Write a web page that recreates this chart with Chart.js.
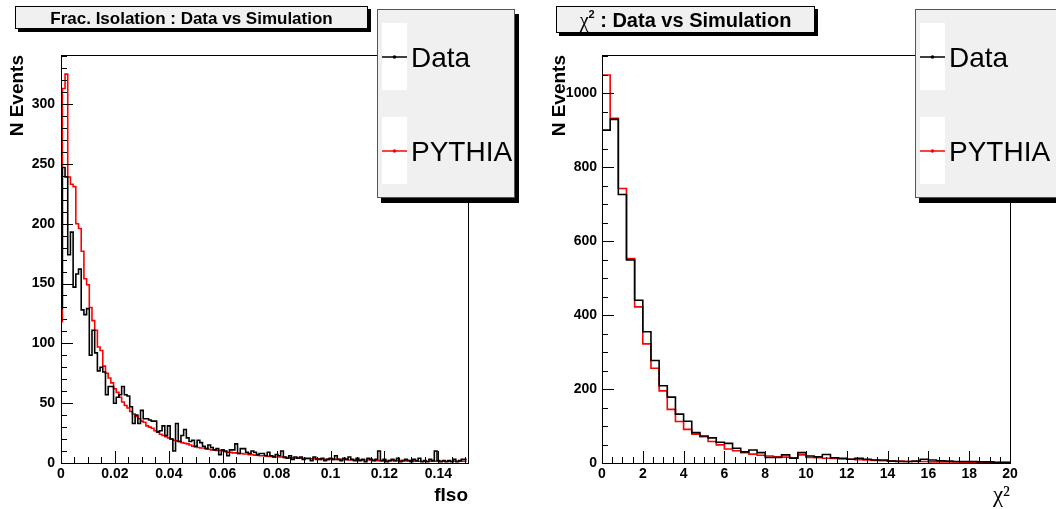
<!DOCTYPE html>
<html>
<head>
<meta charset="utf-8">
<script src="https://cdn.jsdelivr.net/npm/chart.js@4.4.0/dist/chart.umd.min.js"></script>
<style>
  html, body { margin: 0; padding: 0; background: #fff; }
  #wrap { position: relative; width: 1056px; height: 509px; overflow: hidden; }
  .pad { position: absolute; top: 0; width: 528px; height: 509px; }
  .pad canvas { position: absolute; left: 0; top: 0; }
  .overlay { pointer-events: none; }
</style>
</head>
<body>
<div id="wrap">
  <div class="pad" style="left:0">
    <canvas id="fisoChart" width="528" height="509"></canvas>
    <canvas id="fisoTicks" class="overlay" width="528" height="509"></canvas>
  </div>
  <div class="pad" style="left:528px">
    <canvas id="chi2Chart" width="528" height="509"></canvas>
    <canvas id="chi2Ticks" class="overlay" width="528" height="509"></canvas>
  </div>
</div>
<script>
// Frac. isolation histogram, bins of 0.001 centred on 0, 0.001, 0.002 ...
const fisoBinWidth = 0.001;
const fisoFirstEdge = -0.0005;
const fisoData = [
  94, 129, 247, 239, 174, 193, 147, 158, 162, 128,
  124, 129, 90, 111, 92, 77, 80, 76, 57, 64,
  64, 50, 55, 57, 64, 57, 56, 47, 33, 40,
  33, 44, 37, 37, 36, 35, 35, 26, 27, 31,
  23, 31, 20, 10, 33, 18, 23, 28, 21, 18,
  19, 14, 19, 17, 14, 12, 15, 13, 11, 12,
  7, 11, 10, 6, 11, 11, 16, 8, 12, 12,
  9, 8, 10, 9, 7, 8, 8, 6, 9, 6,
  5, 7, 6, 10, 5, 4, 6, 3, 5, 4,
  5, 3, 4, 4, 2, 5, 3, 3, 4, 2,
  3, 4, 3, 6, 3, 2, 4, 3, 5, 3,
  2, 4, 2, 3, 1, 4, 3, 2, 3, 10,
  2, 3, 1, 2, 3, 2, 4, 1, 2, 3,
  2, 1, 3, 2, 4, 1, 2, 1, 3, 2,
  10, 2, 1, 2, 1, 2, 1, 3, 1, 2,
  3
];
const fisoPythia = [
  80, 118, 313, 325, 239, 233, 231, 200, 196, 177,
  154, 149, 130, 119, 111, 97, 94, 81, 75, 71,
  67, 62, 59, 55, 51, 48, 46, 43, 41, 39,
  37, 35, 34, 31, 30, 29, 27, 26, 24, 23,
  22, 21, 20, 19, 18.5, 18, 17, 16.5, 16, 15,
  14, 13.5, 13, 12.5, 12.5, 12, 11.5, 11, 11, 10.5,
  10.5, 10, 9.5, 9, 9, 8.5, 8.5, 8, 8, 7.5,
  7.5, 7, 7, 6.5, 6.5, 6, 6, 6, 5.5, 5.5,
  5.5, 5, 5, 5, 4.5, 4.5, 4.5, 4.5, 4, 4,
  4, 4, 3.5, 3.5, 3.5, 3.5, 3.5, 3.5, 3, 3,
  3, 3, 3, 3, 3, 3, 3, 3, 2.5, 2.5,
  2.5, 2.5, 2.5, 2.5, 2.5, 2.5, 2.5, 2.5, 2, 2,
  2, 2, 2, 2, 2, 2, 2, 2, 2, 2,
  2, 2, 1.5, 1.5, 1.5, 1.5, 1.5, 1.5, 1.5, 1.5,
  1.5, 1.5, 1.5, 1.5, 1.5, 1.5, 1.5, 1.5, 1.5, 1.5,
  1.5
];

// chi2 histogram, bins of 0.4 from 0 to 20
const chi2BinWidth = 0.4;
const chi2FirstEdge = 0;
const chi2Data = [
  400, 900, 929, 726, 549, 440, 355, 277, 209, 178,
  132, 113, 82, 73, 68, 56, 53, 40, 30, 35,
  28, 15, 15, 22, 13, 28, 19, 17, 23, 14,
  13, 10, 13, 10, 8, 8, 5, 4, 4, 5,
  10, 8, 6, 5, 4, 4, 4, 3, 3, 2
];
const chi2Pythia = [
  538, 1049, 932, 742, 553, 422, 322, 256, 195, 145,
  112, 91, 78, 71, 58, 49, 38, 33, 28, 24,
  21, 19, 17, 16, 14, 22, 15, 14, 13, 12,
  11, 10, 9, 8, 7, 6, 5, 5, 4, 4,
  4, 3, 3, 3, 3, 2, 2, 2, 2, 1
];

const legendLabels = ['Data', 'PYTHIA'];
const seriesColors = ['#000000', '#ff0000'];

const FONT = "'Liberation Sans', Arial, Helvetica, sans-serif";
const SERIF = "'Liberation Serif', 'Times New Roman', serif";

function histPoints(values, firstEdge, width) {
  const pts = values.map((v, i) => ({ x: firstEdge + i * width, y: v }));
  pts.push({ x: firstEdge + values.length * width, y: values[values.length - 1] });
  return pts;
}

// inner ticks (minor every xMinor / yMinor, long one every xEvery / yEvery) and frame,
// drawn on a transparent canvas laid over the chart, positioned with the chart's scales
function drawFrame(chart, overlayId, axes) {
  const ctx = document.getElementById(overlayId).getContext('2d');
  const a = chart.chartArea;
  const xs = chart.scales.x;
  const ys = chart.scales.y;
  const left = Math.round(a.left);
  const bottom = Math.round(a.bottom);
  ctx.fillStyle = '#000000';
  const nx = Math.round(axes.xMax / axes.xMinor);
  for (let i = 0; i <= nx; i++) {
    const px = Math.round(xs.getPixelForValue(i * axes.xMinor));
    if (px > a.right + 0.5) break;
    const len = i % axes.xEvery === 0 ? 12 : 6;
    ctx.fillRect(px, bottom - len, 1, len);
  }
  const ny = Math.round(axes.yMax / axes.yMinor);
  for (let i = 0; i <= ny; i++) {
    const py = Math.round(ys.getPixelForValue(i * axes.yMinor));
    if (py < a.top - 0.5) break;
    const len = i % axes.yEvery === 0 ? 12 : 6;
    ctx.fillRect(left, py, len, 1);
  }
  ctx.strokeStyle = '#000000';
  ctx.lineWidth = 1;
  ctx.strokeRect(left + 0.5, Math.round(a.top) + 0.5,
    Math.round(a.right - a.left), Math.round(a.bottom - a.top));
}

// title pave and legend box, drawn on top of everything
function drawPave(ctx, pave, legend) {
  ctx.save();
  ctx.fillStyle = '#000';
  ctx.fillRect(pave.x + 3, pave.y + 3, pave.w, pave.h);
  ctx.fillStyle = '#f0f0f0';
  ctx.fillRect(pave.x, pave.y, pave.w, pave.h);
  ctx.strokeStyle = '#000';
  ctx.lineWidth = 1;
  ctx.strokeRect(pave.x + 0.5, pave.y + 0.5, pave.w - 1, pave.h - 1);
  let total = 0;
  const widths = pave.parts.map(p => { ctx.font = p.font; const w = ctx.measureText(p.text).width; total += w; return w; });
  let tx = pave.x + (pave.w - total) / 2;
  ctx.fillStyle = '#000';
  ctx.textBaseline = 'alphabetic';
  ctx.textAlign = 'left';
  pave.parts.forEach((p, i) => {
    ctx.font = p.font;
    ctx.fillText(p.text, tx, pave.baseline + (p.dy || 0));
    tx += widths[i];
  });

  const L = legend;
  ctx.fillStyle = '#000';
  ctx.fillRect(L.x + 4, L.y + 5, L.w, L.h);
  ctx.fillStyle = '#f0f0f0';
  ctx.fillRect(L.x, L.y, L.w, L.h);
  ctx.strokeStyle = '#555';
  ctx.strokeRect(L.x + 0.5, L.y + 0.5, L.w - 1, L.h - 1);
  legendLabels.forEach((label, i) => {
    const top = L.y + 14 + i * 94;
    ctx.fillStyle = '#fff';
    ctx.fillRect(L.x + 5, top, 25, 67);
    const ly = top + 34;
    ctx.strokeStyle = seriesColors[i];
    ctx.lineWidth = 1.5;
    ctx.beginPath();
    ctx.moveTo(L.x + 5, ly);
    ctx.lineTo(L.x + 30, ly);
    ctx.stroke();
    ctx.fillStyle = seriesColors[i];
    ctx.beginPath();
    ctx.arc(L.x + 17.5, ly, 1.8, 0, Math.PI * 2);
    ctx.fill();
    ctx.fillStyle = '#000';
    ctx.font = '28px ' + FONT;
    ctx.fillText(label, L.x + 34, ly + 10);
  });
  ctx.restore();
}

function makePad(canvasId, overlayId, cfg, axes) {
  const chart = new Chart(document.getElementById(canvasId), {
    type: 'line',
    data: {
      datasets: [
        { label: legendLabels[0], data: histPoints(cfg.values, cfg.firstEdge, cfg.binWidth),
          borderColor: seriesColors[0], borderWidth: 1.6, stepped: 'after', pointRadius: 0, fill: false },
        { label: legendLabels[1], data: histPoints(cfg.sim, cfg.firstEdge, cfg.binWidth),
          borderColor: seriesColors[1], borderWidth: 1.6, stepped: 'after', pointRadius: 0, fill: false }
      ]
    },
    options: {
      responsive: false,
      animation: false,
      devicePixelRatio: 1,
      layout: { padding: { left: 0, top: 55, right: cfg.padRight, bottom: 0 } },
      plugins: { legend: { display: false }, tooltip: { enabled: false } },
      scales: {
        x: {
          type: 'linear', min: 0, max: axes.xMax,
          afterFit: s => { s.height = 46; },
          grid: { display: false, drawTicks: false },
          border: { display: false },
          ticks: {
            stepSize: axes.xMinor * axes.xEvery, includeBounds: false, autoSkip: false, maxRotation: 0,
            padding: 3, color: '#000', font: { family: FONT, size: 14, weight: 'bold' },
            callback: v => String(+v.toFixed(4))
          },
          title: {
            display: true, text: cfg.xTitle, align: 'end', color: '#000',
            font: cfg.xTitleFont, padding: { top: 0, bottom: cfg.xTitlePad }
          }
        },
        y: {
          type: 'linear', min: 0, max: axes.yMax,
          afterFit: s => { s.width = cfg.yWidth; },
          grid: { display: false, drawTicks: false },
          border: { display: false },
          ticks: {
            stepSize: axes.yMinor * axes.yEvery, includeBounds: false, autoSkip: false,
            padding: cfg.yLabelPad, color: '#000', font: { family: FONT, size: 14, weight: 'bold' },
            callback: v => String(v)
          },
          title: {
            display: true, text: 'N Events', align: 'end', color: '#000',
            font: { family: FONT, size: 19, weight: 'bold', lineHeight: 1 },
            padding: { top: cfg.yTitlePad, bottom: 0 }
          }
        }
      }
    }
  });
  drawFrame(chart, overlayId, axes);
  drawPave(document.getElementById(overlayId).getContext('2d'), cfg.pave, cfg.legend);
  return chart;
}

const fisoAxes = { xMax: 0.151, xMinor: 0.005, xEvery: 4, yMax: 341, yMinor: 10, yEvery: 5 };
const chi2Axes = { xMax: 20, xMinor: 0.5, xEvery: 4, yMax: 1103, yMinor: 50, yEvery: 4 };

makePad('fisoChart', 'fisoTicks', {
  values: fisoData, sim: fisoPythia, firstEdge: fisoFirstEdge, binWidth: fisoBinWidth,
  padRight: 60, yWidth: 61, yLabelPad: 6, yTitlePad: 8,
  xTitle: 'fIso', xTitlePad: 4, xTitleFont: { family: FONT, size: 19, weight: 'bold', lineHeight: 1 },
  pave: { x: 15, y: 6, w: 353, h: 23, baseline: 23.5,
    parts: [{ text: 'Frac. Isolation : Data vs Simulation', font: 'bold 17px ' + FONT }] },
  legend: { x: 377, y: 9, w: 138, h: 189 }
}, fisoAxes);

makePad('chi2Chart', 'chi2Ticks', {
  values: chi2Data, sim: chi2Pythia, firstEdge: chi2FirstEdge, binWidth: chi2BinWidth,
  padRight: 46, yWidth: 74, yLabelPad: 5, yTitlePad: 22,
  xTitle: 'χ²', xTitlePad: 2, xTitleFont: { family: SERIF, size: 23, weight: 'normal', lineHeight: 1 },
  pave: { x: 28, y: 6, w: 259, h: 27, baseline: 26.7,
    parts: [
      { text: 'χ', font: '20px ' + SERIF },
      { text: '2', font: 'bold 11px ' + FONT, dy: -9 },
      { text: ' : Data vs Simulation', font: 'bold 20px ' + FONT }
    ] },
  legend: { x: 387, y: 9, w: 145, h: 189 }
}, chi2Axes);
</script>
</body>
</html>
